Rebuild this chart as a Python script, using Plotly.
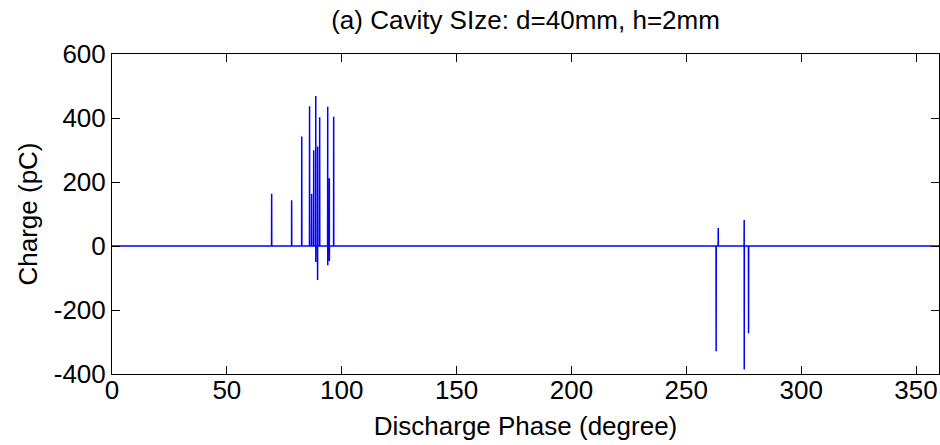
import plotly.graph_objects as go

# Discharge events: phase (degree) and charge (pC); repeated phase = consecutive samples
phases = [69.5, 78.2, 82.6, 86.0, 86.9, 87.8, 88.7, 88.7, 89.5, 89.5, 90.4,
          93.9, 93.9, 94.6, 94.6, 96.5,
          263.0, 263.9, 275.2, 275.2, 277.1]
charges = [163, 143, 342, 437, 163, 299, 469, -50, -106, 311, 402,
           435, -60, 212, -47, 404,
           -329, 56, 81, -386, -273]

x_ticks = [0, 50, 100, 150, 200, 250, 300, 350]
y_ticks = [-400, -200, 0, 200, 400, 600]
y_tick_labels = ["-400", "-200", "0", "200", "400", "600"]

# Build the sampled signal: baseline zero with spikes at event phases
xs, ys = [0.0], [0.0]
i = 0
while i < len(phases):
    p = phases[i]
    xs.append(p - 0.05); ys.append(0.0)
    k = 0
    while i < len(phases) and phases[i] == p:
        xs.append(p + 0.02 * k); ys.append(charges[i])
        i += 1; k += 1
    xs.append(p + 0.02 * k + 0.03); ys.append(0.0)
xs.append(360.0); ys.append(0.0)

fig = go.Figure(go.Scatter(x=xs, y=ys, mode="lines",
                           line=dict(color="#0000FF", width=1.5),
                           hoverinfo="skip"))

font = "Liberation Sans, Arial, sans-serif"
axis_common = dict(showgrid=False, zeroline=False, showline=True, linecolor="black",
                   linewidth=1, mirror="ticks", ticks="inside", ticklen=8,
                   tickcolor="black", automargin=False,
                   tickfont=dict(family=font, size=26, color="black"))

fig.update_layout(
    template="none",
    width=940, height=445,
    margin=dict(l=112, r=1, t=54, b=71),
    paper_bgcolor="white", plot_bgcolor="white",
    showlegend=False,
    title=dict(text="(a) Cavity SIze: d=40mm, h=2mm", x=0.5, xref="paper",
               xanchor="center", y=0.955, yanchor="middle",
               font=dict(family=font, size=26, color="black")),
    xaxis=dict(range=[0, 360], tickvals=x_ticks, ticklabelstandoff=-7,
               title=dict(text="Discharge Phase (degree)", standoff=12,
                          font=dict(family=font, size=26, color="black")),
               **axis_common),
    yaxis=dict(range=[-400, 600], tickvals=y_ticks, ticktext=y_tick_labels,
               title=dict(text="Charge (pC)", standoff=8,
                          font=dict(family=font, size=26, color="black")),
               **axis_common),
)

fig.write_html("out.html", config={"displayModeBar": False},
               post_script="document.body.style.margin='0';document.body.style.overflow='hidden';")
